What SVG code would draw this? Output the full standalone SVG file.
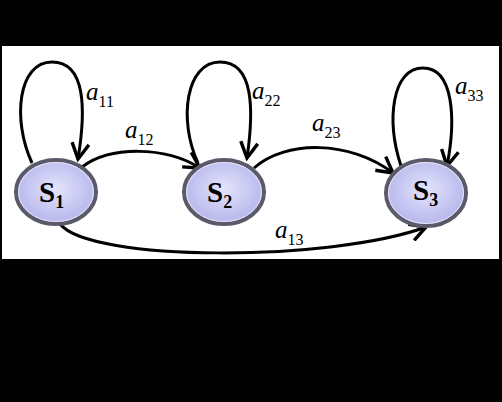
<svg xmlns="http://www.w3.org/2000/svg" width="502" height="402" viewBox="0 0 502 402">
<defs>
<radialGradient id="g" cx="50%" cy="45%" r="55%">
<stop offset="0" stop-color="#e4e4fc"/>
<stop offset="1" stop-color="#b4b4ec"/>
</radialGradient>
<marker id="ah" markerUnits="userSpaceOnUse" markerWidth="20" markerHeight="20" viewBox="0 0 14 14" refX="12" refY="7" orient="auto">
<path d="M1,1 L12,7 L1,13" fill="none" stroke="#000" stroke-width="2.4"/>
</marker>
<style>
.st{fill:url(#g);stroke:#5a5a6a;stroke-width:4}
.si{fill:none;stroke:#e8e8f4;stroke-width:1}
.lb{font-family:"Liberation Serif",serif;font-weight:bold;font-size:29px;fill:#000}
.sub{font-size:18px}
.ed{fill:none;stroke:#000;stroke-width:3;marker-end:url(#ah)}
.al{font-family:"Liberation Serif",serif;font-style:italic;font-size:25px;fill:#000}
.as{font-style:normal;font-size:16px}
.dk{font-family:"Liberation Serif",serif;font-style:italic;font-size:24px;fill:#000}
.dks{font-size:15px}
</style>
</defs>
<rect x="0" y="0" width="502" height="402" fill="#000"/>
<rect x="2" y="46" width="497" height="213" fill="#fff"/>
<g id="edges">
<path class="ed" d="M32,163 C12,120 18,62 52,62 C86,62 86,110 78,159"/>
<path class="ed" d="M198,163 C178,120 186,62 220,62 C254,62 254,110 247,158"/>
<path class="ed" d="M401,166 C386,120 392,68 423,68 C454,68 456,120 447,166"/>
<path class="ed" d="M82,167 C110,146 165,146 200,168"/>
<path class="ed" d="M254,168 C285,140 350,140 393,173"/>
<path class="ed" d="M60,224 C90,262 330,262 426,227"/>
</g>
<g id="S1">
<ellipse class="st" cx="56" cy="192" rx="40" ry="32"/>
<ellipse class="si" cx="56" cy="192" rx="37.5" ry="29.5"/>
<text class="lb" x="39" y="202">S<tspan class="sub" dy="6">1</tspan></text>
</g>
<g id="S2">
<ellipse class="st" cx="224" cy="192" rx="40" ry="32"/>
<ellipse class="si" cx="224" cy="192" rx="37.5" ry="29.5"/>
<text class="lb" x="207" y="202">S<tspan class="sub" dy="6">2</tspan></text>
</g>
<g id="S3">
<ellipse class="st" cx="426" cy="193" rx="40" ry="33"/>
<ellipse class="si" cx="426" cy="193" rx="37.5" ry="30.5"/>
<text class="lb" x="413" y="200">S<tspan class="sub" dy="6">3</tspan></text>
</g>
<g id="labels">
<text class="al" x="86" y="100">a<tspan class="as" dy="7">11</tspan></text>
<text class="al" x="125" y="138">a<tspan class="as" dy="7">12</tspan></text>
<text class="al" x="252" y="99">a<tspan class="as" dy="7">22</tspan></text>
<text class="al" x="312" y="131">a<tspan class="as" dy="7">23</tspan></text>
<text class="al" x="455" y="94">a<tspan class="as" dy="7">33</tspan></text>
<text class="al" x="275" y="238">a<tspan class="as" dy="7">13</tspan></text>
</g>
<g id="hidden">
<text class="dk" x="42" y="32">π<tspan class="dks" dy="6">1</tspan></text>
<text class="dk" x="220" y="32">π<tspan class="dks" dy="6">2</tspan></text>
<text class="dk" x="410" y="32">π<tspan class="dks" dy="6">3</tspan></text>
<text class="dk" x="26" y="295">b<tspan class="dks" dy="5">1</tspan><tspan dy="-5">(O</tspan><tspan class="dks" dy="5">1</tspan><tspan dy="-5">)</tspan></text>
<text class="dk" x="196" y="295">b<tspan class="dks" dy="5">2</tspan><tspan dy="-5">(O</tspan><tspan class="dks" dy="5">1</tspan><tspan dy="-5">)</tspan></text>
<text class="dk" x="382" y="295">b<tspan class="dks" dy="5">3</tspan><tspan dy="-5">(O</tspan><tspan class="dks" dy="5">1</tspan><tspan dy="-5">)</tspan></text>
<text class="dk" x="56" y="335">⋮</text>
<text class="dk" x="230" y="335">⋮</text>
<text class="dk" x="408" y="335">⋮</text>
<text class="dk" x="20" y="385">b<tspan class="dks" dy="5">1</tspan><tspan dy="-5">(O</tspan><tspan class="dks" dy="5">M</tspan><tspan dy="-5">)</tspan></text>
<text class="dk" x="193" y="385">b<tspan class="dks" dy="5">2</tspan><tspan dy="-5">(O</tspan><tspan class="dks" dy="5">M</tspan><tspan dy="-5">)</tspan></text>
<text class="dk" x="376" y="385">b<tspan class="dks" dy="5">3</tspan><tspan dy="-5">(O</tspan><tspan class="dks" dy="5">M</tspan><tspan dy="-5">)</tspan></text>
</g>
</svg>
